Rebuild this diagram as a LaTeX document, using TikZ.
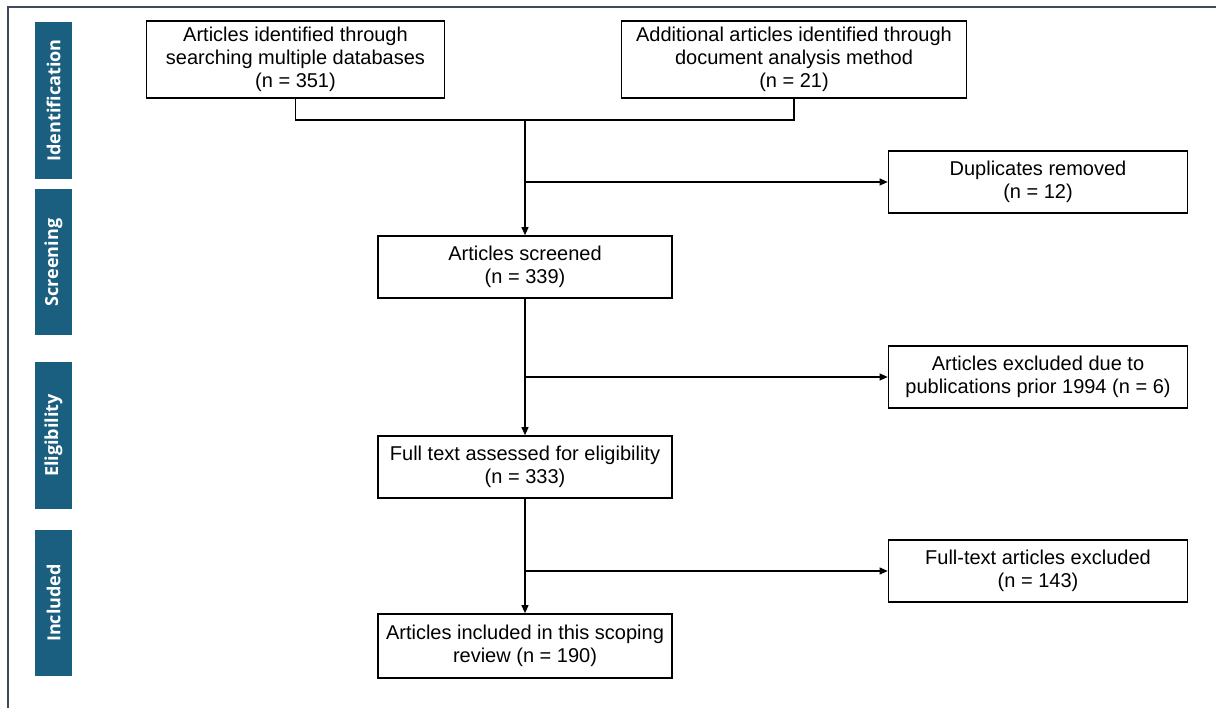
\documentclass[tikz,border=0pt]{standalone}
\usepackage{fontspec}
\setmainfont{Liberation Sans}
\newfontfamily\stagefont{Open Sans}
\usetikzlibrary{arrows.meta}
\definecolor{stageblue}{HTML}{1A5E80}
\definecolor{framegray}{HTML}{3D4B5C}
\begin{document}
\begin{tikzpicture}[x=1pt,y=-1pt,
  box/.style={draw=black,line width=1.7pt,rectangle,align=center,inner sep=0pt,
    font=\fontsize{20}{23}\selectfont},
  stage/.style={fill=stageblue,rectangle,inner sep=0pt,minimum width=37pt},
  stagetext/.style={text=white,rotate=90,font=\stagefont\bfseries\fontsize{18}{21}\selectfont},
  link/.style={draw=black,line width=1.1pt},
  arr/.style={link,-{Triangle[length=8pt,width=7pt]}}]
\useasboundingbox (0,0) rectangle (1216,708);
% outer frame
\draw[framegray,line width=2.2pt] (8,708) -- (8,7) -- (1216,7);

% stage bars
\node[stage,minimum height=157pt] (sid) at (53.5,100.5) {};
\node[stagetext] at (sid.center) {Identification};
\node[stage,minimum height=146pt] (ssc) at (53.5,262.5) {};
\node[stagetext] at (ssc.center) {Screening};
\node[stage,minimum height=146pt] (sel) at (53.5,435.5) {};
\node[stagetext] at (sel.center) {Eligibility};
\node[stage,minimum height=146pt] (sin) at (53.5,603) {};
\node[stagetext] at (sin.center) {Included};

% boxes
\node[box,minimum width=298pt,minimum height=77pt] (db) at (295.5,59.5)
  {Articles identified through\\searching multiple databases\\(n = 351)};
\node[box,minimum width=345pt,minimum height=77pt] (doc) at (794,59.5)
  {Additional articles identified through\\document analysis method\\(n = 21)};
\node[box,minimum width=294pt,minimum height=62pt] (scr) at (525,267)
  {Articles screened\\(n = 339)};
\node[box,minimum width=299pt,minimum height=62pt] (dup) at (1038,182)
  {Duplicates removed\\(n = 12)};
\node[box,minimum width=294pt,minimum height=62pt] (full) at (525,467)
  {Full text assessed for eligibility\\(n = 333)};
\node[box,minimum width=299pt,minimum height=62pt] (exc) at (1038,377)
  {Articles excluded due to\\publications prior 1994 (n = 6)};
\node[box,minimum width=294pt,minimum height=64pt] (inc) at (525,646)
  {Articles included in this scoping\\review (n = 190)};
\node[box,minimum width=299pt,minimum height=62pt] (fte) at (1038,571)
  {Full-text articles excluded\\(n = 143)};

% connectors
\coordinate (j) at (525,120);
\draw[link] (db.south) -- (db.south |- j) -- (doc.south |- j) -- (doc.south);
\draw[arr] (j) -- (scr.north);
\draw[arr] (j |- dup.west) -- (dup.west);
\draw[arr] (scr.south) -- (full.north);
\draw[arr] (scr.south |- exc.west) -- (exc.west);
\draw[arr] (full.south) -- (inc.north);
\draw[arr] (full.south |- fte.west) -- (fte.west);
\end{tikzpicture}
\end{document}
